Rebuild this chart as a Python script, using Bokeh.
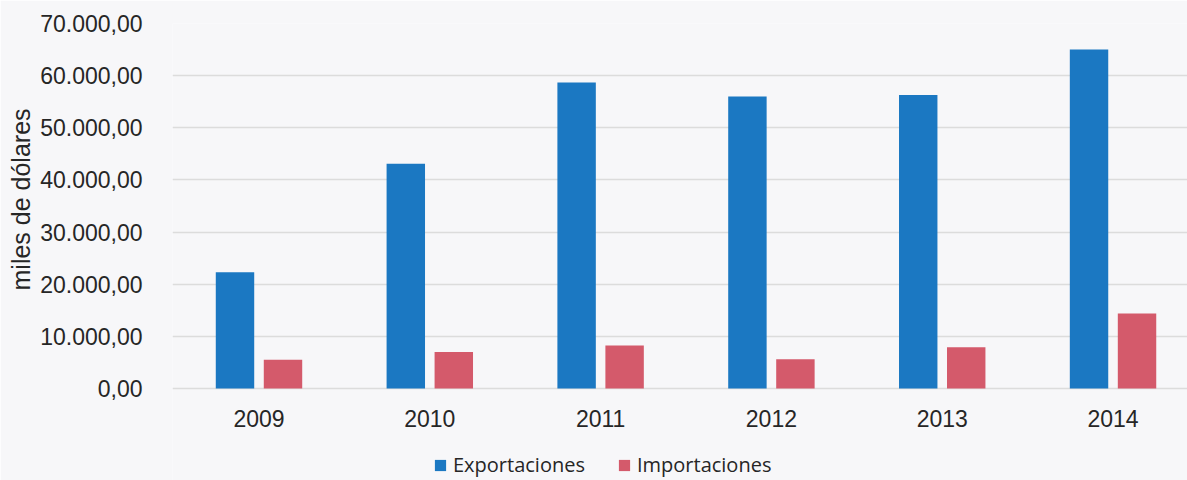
from bokeh.plotting import figure
from bokeh.models import ColumnDataSource, Range1d, FixedTicker, Legend, LegendItem, Title
from bokeh.transform import dodge
from bokeh.embed import file_html
from bokeh.resources import INLINE

years = [2009, 2010, 2011, 2012, 2013, 2014]
exportaciones = [22300, 43100, 58700, 56000, 56300, 65000]
importaciones = [5500, 7000, 8250, 5600, 7900, 14400]
y_ticks = [0, 10000, 20000, 30000, 40000, 50000, 60000, 70000]
y_tick_labels = ["0,00", "10.000,00", "20.000,00", "30.000,00", "40.000,00",
                 "50.000,00", "60.000,00", "70.000,00"]
series_names = ["Exportaciones", "Importaciones"]
y_title = "miles de dólares"

BG = "#f7f7f9"
BLUE = "#1b78c2"
PINK = "#d45a6b"
TXT = "#262626"

src = ColumnDataSource(dict(year=years, exp=exportaciones, imp=importaciones))

# frame spans the full lower area so the legend (drawn in the frame) is not clipped;
# 0 sits 92 px above the bottom edge, 70 000 at the frame top.
y_bottom = -70000 * 92 / 365

p = figure(width=1187, height=480, output_backend="svg", toolbar_location=None,
           x_range=Range1d(2008.4936, 2014.436), y_range=Range1d(y_bottom, 70000),
           min_border_left=172, min_border_right=0, min_border_top=23,
           min_border_bottom=0)
p.background_fill_color = BG
p.border_fill_color = BG
p.outline_line_color = None

r1 = p.vbar(x=dodge("year", -0.1405, range=p.x_range), top="exp", width=0.225,
            source=src, fill_color=BLUE, line_color=None)
r2 = p.vbar(x=dodge("year", 0.1405, range=p.x_range), top="imp", width=0.225,
            source=src, fill_color=PINK, line_color=None)

p.xgrid.grid_line_color = None
p.ygrid.grid_line_color = "#dcdcdc"
p.ygrid.grid_line_width = 1.5

p.xaxis.fixed_location = 0
p.xaxis.ticker = FixedTicker(ticks=years)
p.xaxis.major_label_overrides = {y: str(y) for y in years}
p.yaxis.ticker = FixedTicker(ticks=y_ticks)
p.yaxis.major_label_overrides = {t: l for t, l in zip(y_ticks, y_tick_labels)}

for ax in (p.xaxis, p.yaxis):
    ax.axis_line_color = None
    ax.major_tick_line_color = None
    ax.minor_tick_line_color = None
    ax.major_label_text_font = "Liberation Sans"
    ax.major_label_text_font_size = "23px"
    ax.major_label_text_color = TXT

p.xaxis.major_label_standoff = 15
p.yaxis.major_label_standoff = 24

t = Title(text=y_title, align="left", offset=190, text_font="Liberation Sans",
          text_font_size="25px", text_font_style="normal", text_color=TXT,
          standoff=6)
p.add_layout(t, "left")

legend = Legend(items=[LegendItem(label=series_names[0], renderers=[r1]),
                       LegendItem(label=series_names[1], renderers=[r2])],
                location=(261, 2), orientation="horizontal",
                padding=0, margin=0, spacing=32, label_standoff=6,
                glyph_width=14, glyph_height=14, label_height=20,
                label_text_font="Open Sans", label_text_font_size="20px",
                label_text_color=TXT, background_fill_alpha=0,
                border_line_alpha=0)
p.add_layout(legend, "center")

open("out.html", "w").write(file_html(p, INLINE))
